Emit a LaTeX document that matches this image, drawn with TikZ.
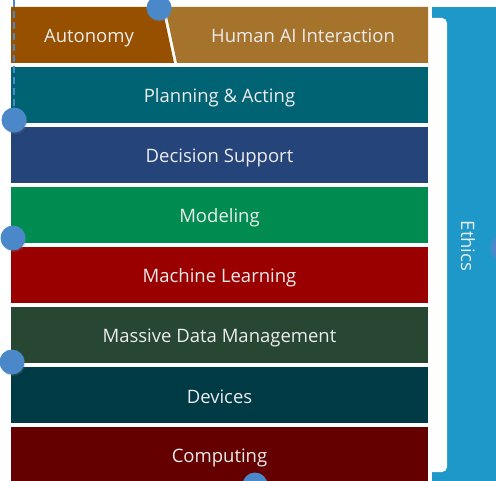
\documentclass[tikz,border=0pt]{standalone}
\usepackage{fontspec}
\setmainfont{Open Sans}
\usetikzlibrary{shadows}

\definecolor{autonomy}{RGB}{150,80,0}
\definecolor{human}{RGB}{166,115,45}
\definecolor{planning}{RGB}{0,99,116}
\definecolor{decision}{RGB}{37,68,122}
\definecolor{modeling}{RGB}{0,139,81}
\definecolor{learning}{RGB}{155,0,0}
\definecolor{massive}{RGB}{39,71,51}
\definecolor{devices}{RGB}{0,58,69}
\definecolor{computing}{RGB}{101,0,0}
\definecolor{ethics}{RGB}{30,152,200}
\definecolor{dotblue}{RGB}{74,136,201}
\definecolor{txt}{RGB}{236,236,236}

\begin{document}
\begin{tikzpicture}[x=1pt,y=-1pt,
  label/.style={text=txt, font=\fontsize{18.5}{20}\selectfont, inner sep=0pt,
    text height=18pt, text depth=2pt},
  layer/.style={label, minimum width=417pt, minimum height=56pt},
  dot/.style={circle, fill=dotblue, minimum size=25pt, inner sep=0pt,
    drop shadow={opacity=0.25, shadow xshift=1pt, shadow yshift=-1.5pt}}]
\useasboundingbox (0,0) rectangle (496,481);

% ethics bracket
\fill[ethics] (432,7) rectangle (496,481);
\fill[white, rounded corners=5pt] (420,18) rectangle (447,472);
\node[label, rotate=-90] (ethics) at (469,246) {Ethics};

% top row
\fill[autonomy] (11,7) -- (162,7) -- (174,63) -- (11,63) -- cycle;
\fill[human] (165,7) -- (428,7) -- (428,63) -- (177,63) -- cycle;
\node[label] (auto) at (89,35) {Autonomy};
\node[label] (hai) at (303,35) {Human AI Interaction};

% layers
\node[layer, fill=planning] (plan) at (219.5,95) {Planning \& Acting};
\node[layer, fill=decision] (dec) at (219.5,155) {Decision Support};
\node[layer, fill=modeling] (mod) at (219.5,215) {Modeling};
\node[layer, fill=learning] (ml) at (219.5,275) {Machine Learning};
\node[layer, fill=massive] (mdm) at (219.5,335) {Massive Data Management};
\node[layer, fill=devices] (dev) at (219.5,395) {Devices};
\node[layer, fill=computing] (comp) at (219.5,455) {Computing};

% dots
\coordinate (top) at (14,0);
\node[dot] (d1) at (159,8) {};
\node[dot] (d2) at (14,120) {};
\node[dot] (d3) at (13,238) {};
\node[dot] (d4) at (12,362) {};
\node[dot] (d5) at (255,485) {};
\node[dot] (d6) at (503,248) {};

\draw[dotblue, line width=2pt, dash pattern=on 7pt off 4pt] (top) -- (d2);
\end{tikzpicture}
\end{document}
